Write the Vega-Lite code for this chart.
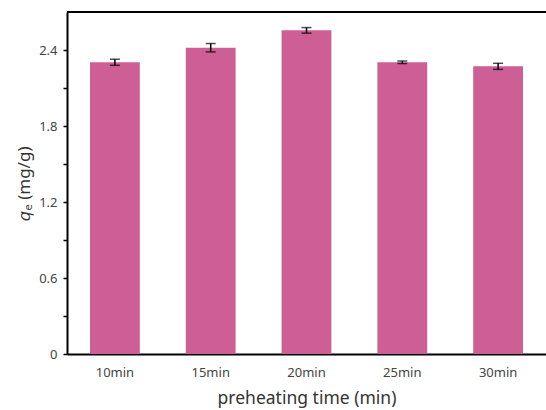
{
  "$schema": "https://vega.github.io/schema/vega-lite/v6.json",
  "width": 479,
  "height": 342,
  "autosize": {"type": "none"},
  "padding": {"left": 67, "top": 12, "right": 0, "bottom": 56},
  "background": "white",
  "config": {
    "view": {"stroke": null},
    "font": "Noto Sans",
    "axis": {"grid": false, "domainColor": "black", "domainWidth": 2, "tickColor": "black", "tickWidth": 1.5, "labelColor": "#444", "titleColor": "#333", "titleFontWeight": "normal"}
  },
  "data": {
    "values": [
      {"time": "10min", "qe": 2.303, "lo": 2.279, "hi": 2.327},
      {"time": "15min", "qe": 2.418, "lo": 2.385, "hi": 2.451},
      {"time": "20min", "qe": 2.555, "lo": 2.533, "hi": 2.577},
      {"time": "25min", "qe": 2.303, "lo": 2.293, "hi": 2.313},
      {"time": "30min", "qe": 2.271, "lo": 2.247, "hi": 2.295}
    ]
  },
  "layer": [
    {
      "mark": {"type": "bar", "color": "#cd5f96"},
      "encoding": {
        "x": {
          "field": "time", "type": "nominal", "sort": null,
          "scale": {"paddingInner": 0.48, "paddingOuter": 0.24},
          "axis": {"title": "preheating time (min)", "labelAngle": 0, "ticks": false, "labelFontSize": 13, "labelPadding": 12, "titleFontSize": 17.5, "titlePadding": 10}
        },
        "y": {
          "field": "qe", "type": "quantitative",
          "scale": {"domain": [0, 2.7], "nice": false, "zero": true},
          "axis": {
            "title": "𝑞ₑ (mg/g)",
            "values": [0, 0.3, 0.6, 0.9, 1.2, 1.5, 1.8, 2.1, 2.4],
            "labelExpr": "abs(datum.value/0.6 - round(datum.value/0.6)) < 0.01 ? (datum.value == 0 ? '0' : format(datum.value, '.1f')) : ''",
            "labelFontSize": 13, "tickSize": 4, "labelPadding": 6,
            "titleFontSize": 17, "titlePadding": 5
          }
        }
      }
    },
    {
      "mark": {"type": "rule", "color": "black", "strokeWidth": 1.5},
      "encoding": {"x": {"field": "time", "type": "nominal", "sort": null}, "y": {"field": "lo", "type": "quantitative"}, "y2": {"field": "hi"}}
    },
    {
      "mark": {"type": "tick", "color": "black", "size": 10, "thickness": 1.5},
      "encoding": {"x": {"field": "time", "type": "nominal", "sort": null}, "y": {"field": "lo", "type": "quantitative"}}
    },
    {
      "mark": {"type": "tick", "color": "black", "size": 10, "thickness": 1.5},
      "encoding": {"x": {"field": "time", "type": "nominal", "sort": null}, "y": {"field": "hi", "type": "quantitative"}}
    },
    {
      "data": {"values": [{"top": 2.7}]},
      "mark": {"type": "rule", "color": "black", "strokeWidth": 2},
      "encoding": {"y": {"field": "top", "type": "quantitative"}}
    }
  ]
}
